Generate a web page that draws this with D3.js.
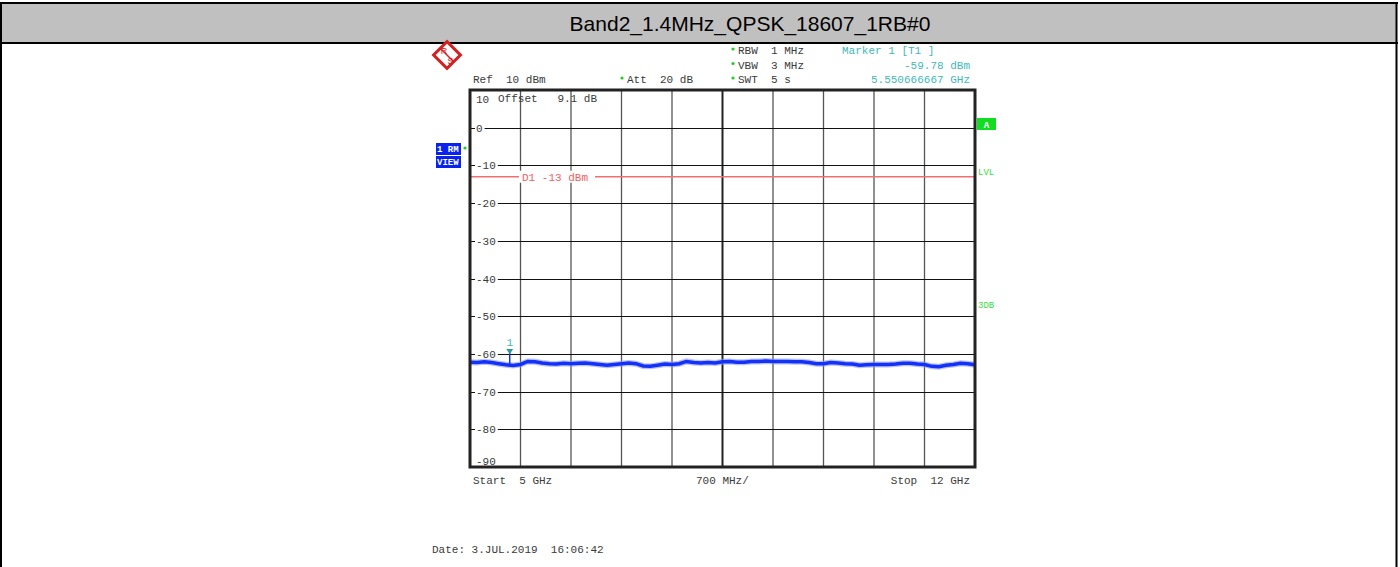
<!DOCTYPE html>
<html><head><meta charset="utf-8">
<script src="https://cdn.jsdelivr.net/npm/d3@7"></script>
<style>html,body{margin:0;padding:0;background:#fff;}svg{display:block;}</style>
</head><body>
<script>
const title = "Band2_1.4MHz_QPSK_18607_1RB#0";
const freqStartGHz = 5, freqStopGHz = 12;
const levelTopDbm = 10, levelBottomDbm = -90;
const yTickValues = [10, 0, -10, -20, -30, -40, -50, -60, -70, -80, -90];
const xGridValues = [5.7, 6.4, 7.1, 7.8, 8.5, 9.2, 9.9, 10.6, 11.3];
const traceFreqGHz = [5.0,5.1,5.2,5.3,5.4,5.5,5.6,5.7,5.8,5.9,6.0,6.1,6.2,6.3,6.4,6.5,6.6,6.7,6.8,6.9,7.0,7.1,7.2,7.3,7.4,7.5,7.6,7.7,7.8,7.9,8.0,8.1,8.2,8.3,8.4,8.5,8.6,8.7,8.8,8.9,9.0,9.1,9.2,9.3,9.4,9.5,9.6,9.7,9.8,9.9,10.0,10.1,10.2,10.3,10.4,10.5,10.6,10.7,10.8,10.9,11.0,11.1,11.2,11.3,11.4,11.5,11.6,11.7,11.8,11.9,12.0];
const traceDbm = [-62.2,-62.3,-62.1,-62.3,-62.6,-62.9,-63.1,-62.8,-62.0,-62.1,-62.4,-62.6,-62.7,-62.5,-62.6,-62.5,-62.4,-62.6,-62.8,-63.0,-62.8,-62.6,-62.4,-62.6,-63.2,-63.3,-63.0,-62.7,-62.8,-62.6,-62.0,-62.3,-62.4,-62.3,-62.4,-62.1,-62.0,-62.2,-62.2,-62.0,-62.0,-61.9,-62.0,-62.0,-62.0,-62.1,-62.1,-62.3,-62.6,-62.6,-62.3,-62.4,-62.6,-62.7,-63.0,-62.9,-62.8,-62.8,-62.8,-62.7,-62.5,-62.5,-62.7,-62.8,-63.3,-63.4,-63.0,-62.8,-62.5,-62.6,-62.9];
const displayLineDbm = -13;
const markerFreqGHz = 5.550666667;
const markerTraceDbm = -62.9;
const headerMid = ["RBW  1 MHz", "VBW  3 MHz", "SWT  5 s"];
const markerInfo = ["Marker 1 [T1 ]", "-59.78 dBm", "5.550666667 GHz"];
const dateText = "Date: 3.JUL.2019  16:06:42";

const W = 1400, H = 567;
const svg = d3.select("body").append("svg").attr("width", W).attr("height", H);
const mono = "'Liberation Mono','Courier New',monospace";
const txtCol = "#3a3a3a";

// outer frame & title band
svg.append("rect").attr("x", 1).attr("y", 3).attr("width", 1395).attr("height", 40).attr("fill", "#c0c0c0");
svg.append("line").attr("x1", 0).attr("x2", 1398).attr("y1", 3).attr("y2", 3).attr("stroke", "#000").attr("stroke-width", 2);
svg.append("line").attr("x1", 0).attr("x2", 1398).attr("y1", 43).attr("y2", 43).attr("stroke", "#000").attr("stroke-width", 2);
svg.append("line").attr("x1", 1).attr("x2", 1).attr("y1", 2).attr("y2", H).attr("stroke", "#000").attr("stroke-width", 2);
svg.append("line").attr("x1", 1396.5).attr("x2", 1396.5).attr("y1", 2).attr("y2", H).attr("stroke", "#000").attr("stroke-width", 2);
svg.append("text").attr("x", 750).attr("y", 31).attr("text-anchor", "middle")
  .attr("font-family", "'Liberation Sans',Arial,sans-serif").attr("font-size", 21).attr("fill", "#000").text(title);

const x = d3.scaleLinear().domain([freqStartGHz, freqStopGHz]).range([470, 975]);
const y = d3.scaleLinear().domain([levelBottomDbm, levelTopDbm]).range([467, 90]);

// R&S logo
const logo = svg.append("g").attr("transform", "translate(447,55)");
logo.append("rect").attr("x", -9.5).attr("y", -9.5).attr("width", 19).attr("height", 19)
  .attr("transform", "rotate(45)").attr("fill", "#fff").attr("stroke", "#d42020").attr("stroke-width", 3);
logo.append("line").attr("x1", -7).attr("y1", -7).attr("x2", 7).attr("y2", 7).attr("stroke", "#d42020").attr("stroke-width", 1.5);
logo.append("text").attr("x", -3).attr("y", -1).attr("text-anchor", "middle").attr("font-size", 9).attr("font-family", "'Liberation Sans',sans-serif").attr("fill", "#d42020").text("R");
logo.append("text").attr("x", 3.5).attr("y", 9).attr("text-anchor", "middle").attr("font-size", 9).attr("font-family", "'Liberation Sans',sans-serif").attr("fill", "#d42020").text("S");

function t(xp, yp, s, col, anchor) {
  return svg.append("text").attr("x", xp).attr("y", yp).attr("font-family", mono).attr("font-size", 11)
    .attr("fill", col || txtCol).attr("text-anchor", anchor || "start").style("white-space", "pre").text(s);
}
function star(xp, yp) {
  svg.append("circle").attr("cx", xp).attr("cy", yp).attr("r", 1.6).attr("fill", "#22cc22");
}
// header
t(473, 83, "Ref  10 dBm");
star(622, 78); t(627, 83, "Att  20 dB");
headerMid.forEach((s, i) => { star(733, 49 + i * 14.5); t(738, 54 + i * 14.5, s); });
const teal = "#3fb8b8";
t(842, 54, markerInfo[0], teal);
t(970, 68.5, markerInfo[1], teal, "end");
t(970, 83, markerInfo[2], teal, "end");

// grid
const g = svg.append("g");
xGridValues.forEach(v => {
  g.append("line").attr("x1", x(v)).attr("x2", x(v)).attr("y1", 90).attr("y2", 467)
    .attr("stroke", v === 8.5 ? "#222" : "#555").attr("stroke-width", v === 8.5 ? 2 : 1.3);
});
yTickValues.forEach(v => {
  if (v !== levelTopDbm && v !== levelBottomDbm) {
    g.append("line").attr("x1", 470).attr("x2", 975).attr("y1", Math.round(y(v)) + 0.5).attr("y2", Math.round(y(v)) + 0.5)
      .attr("stroke", "#111").attr("stroke-width", 1.2);
  }
});
yTickValues.forEach(v => {
  let yy = v === levelTopDbm ? 103 : v === levelBottomDbm ? 465 : y(v) + 4;
  const lbl = String(v);
  const w = lbl.length * 6.6;
  svg.append("rect").attr("x", 475).attr("y", yy - 9).attr("width", w + 3).attr("height", 11).attr("fill", "#fff");
  t(476, yy, lbl);
});
t(498, 102, "Offset   9.1 dB");

// display line D1
svg.append("line").attr("x1", 470).attr("x2", 975).attr("y1", y(displayLineDbm)).attr("y2", y(displayLineDbm))
  .attr("stroke", "#f07070").attr("stroke-width", 1.5);
svg.append("rect").attr("x", 519).attr("y", y(displayLineDbm) - 6).attr("width", 76).attr("height", 12).attr("fill", "#fff");
t(522, y(displayLineDbm) + 4, "D1 -13 dBm", "#f06060");

// trace
const pts = traceFreqGHz.map((f, i) => [x(f), y(traceDbm[i])]);
const line = d3.line().curve(d3.curveLinear);
svg.append("path").attr("d", line(pts)).attr("fill", "none").attr("stroke", "#8a9aff").attr("stroke-width", 6).attr("opacity", 0.6);
svg.append("path").attr("d", line(pts)).attr("fill", "none").attr("stroke", "#1432f5").attr("stroke-width", 3.5);

// marker
const mx = x(markerFreqGHz);
svg.append("line").attr("x1", mx).attr("x2", mx).attr("y1", 352).attr("y2", y(markerTraceDbm)).attr("stroke", "#1432f5").attr("stroke-width", 1.5);
svg.append("path").attr("d", `M${mx - 3.5},349 L${mx + 3.5},349 L${mx},354 Z`).attr("fill", "#2a9a9a");
t(mx, 346, "1", teal, "middle");

// frame
svg.append("rect").attr("x", 470).attr("y", 90).attr("width", 505).attr("height", 377)
  .attr("fill", "none").attr("stroke", "#222").attr("stroke-width", 3);

// right annotations
svg.append("rect").attr("x", 977).attr("y", 118).attr("width", 19).attr("height", 12).attr("fill", "#11dd22");
t(986.5, 128, "A", "#fff", "middle").attr("font-size", 9).attr("font-weight", "bold");
t(978, 175, "LVL", "#33dd44").attr("font-size", 9);
t(978, 308, "3DB", "#33dd44").attr("font-size", 9);

// left annotations
svg.append("rect").attr("x", 436).attr("y", 143).attr("width", 25).attr("height", 12).attr("fill", "#0a22ee");
svg.append("rect").attr("x", 436).attr("y", 156).attr("width", 25).attr("height", 12).attr("fill", "#0a22ee");
t(437, 152, "1 RM", "#fff").attr("font-size", 9).attr("font-weight", "bold");
t(437, 165, "VIEW", "#fff").attr("font-size", 9).attr("font-weight", "bold");
star(465, 148);

// bottom texts
t(473, 484, "Start  5 GHz");
t(696, 484, "700 MHz/");
t(970, 484, "Stop  12 GHz", txtCol, "end");
t(432, 553, dateText);
</script>
</body></html>
